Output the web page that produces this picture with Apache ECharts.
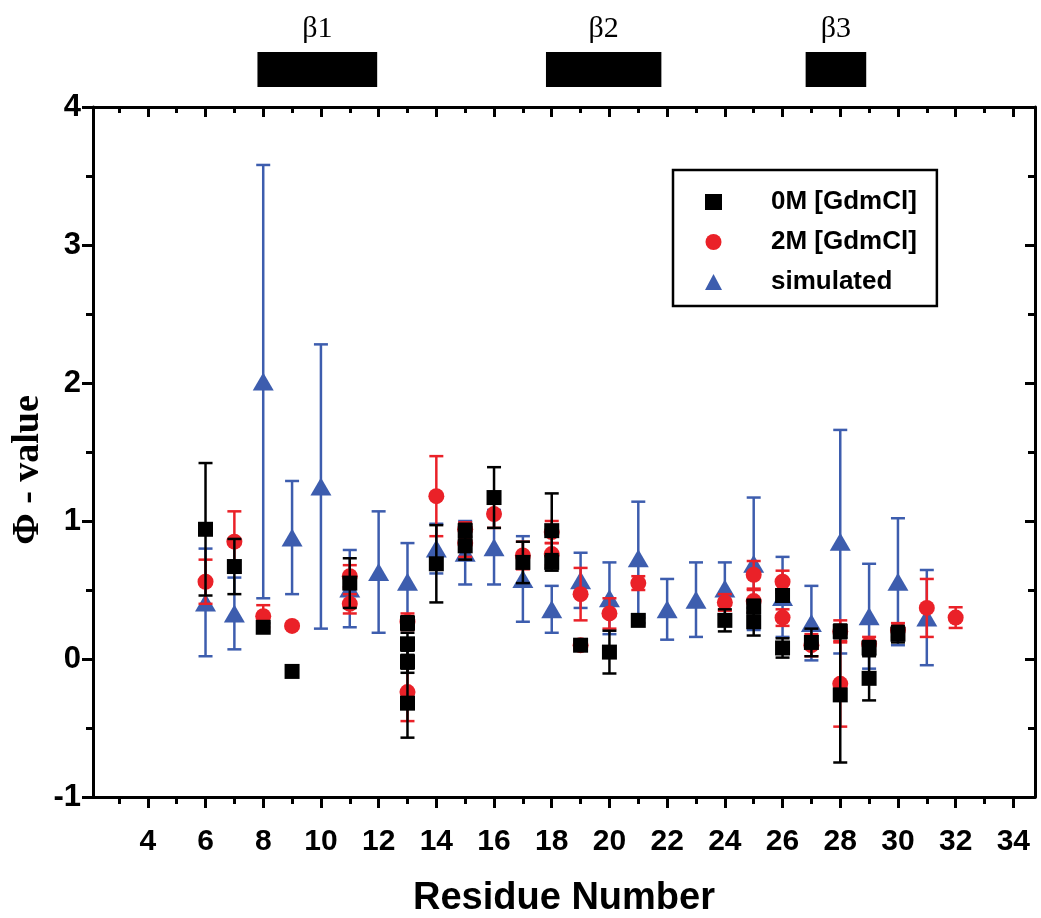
<!DOCTYPE html>
<html><head><meta charset="utf-8">
<script src="https://cdn.jsdelivr.net/npm/echarts@6/dist/echarts.min.js"></script>
<style>html,body{margin:0;padding:0;background:#fff}#c{width:1041px;height:918px}</style>
</head><body><div id="c"></div>
<script>
// ---- tick labels ----
const xMajorTicks = [4,6,8,10,12,14,16,18,20,22,24,26,28,30,32,34];
const xMinorTicks = [3,5,7,9,11,13,15,17,19,21,23,25,27,29,31,33];
const xMin = 2.1, xMax = 34.75;
const yMin = -1, yMax = 4;

// ---- secondary structure (beta strands) ----
const strandNames = ['\u03b21','\u03b22','\u03b23'];
const strandStart = [7.8, 17.8, 26.8];
const strandEnd   = [11.95, 21.8, 28.9];

// ---- 0M [GdmCl] ----
const res0M = [6,7,8,9,11,13,13,13,13,14,15,15,16,17,18,18,19,20,21,24,25,25,26,26,27,28,28,29,29,30];
const phi0M = [0.94,0.67,0.23,-0.09,0.55,0.26,0.11,-0.02,-0.32,0.69,0.93,0.82,1.17,0.70,0.93,0.70,0.10,0.05,0.28,0.28,0.27,0.38,0.08,0.46,0.12,-0.26,0.20,0.08,-0.14,0.18];
const err0M = [0.48,0.20,0.03,0,0.18,0.05,0.08,0.08,0.25,0.28,0.05,0.10,0.22,0.15,0.27,0.06,0.03,0.155,0.02,0.08,0.10,0.05,0.07,0.04,0.10,0.49,0.05,0.05,0.16,0.06];

// ---- 2M [GdmCl] ----
const res2M = [6,7,8,9,11,11,13,13,14,15,15,16,17,18,18,19,19,20,21,24,25,25,26,26,27,28,28,29,30,31,32];
const phi2M = [0.56,0.85,0.31,0.24,0.60,0.40,0.27,-0.24,1.18,0.94,0.84,1.05,0.75,0.92,0.76,0.47,0.10,0.33,0.55,0.41,0.61,0.42,0.56,0.30,0.10,0.20,-0.18,0.11,0.21,0.37,0.30];
const err2M = [0.16,0.22,0.08,0.02,0.08,0.07,0.06,0.21,0.29,0.05,0.10,0.10,0.10,0.08,0.08,0.19,0.04,0.11,0.05,0.06,0.10,0.08,0.08,0.06,0.08,0.08,0.31,0.05,0.05,0.21,0.075];

// ---- simulated ----
const resSim = [6,7,8,9,10,11,12,13,14,15,16,17,18,19,20,21,22,23,24,25,26,27,28,29,30,31];
const phiSim = [0.41,0.33,2.01,0.88,1.25,0.51,0.63,0.56,0.80,0.77,0.81,0.58,0.36,0.57,0.44,0.73,0.36,0.43,0.51,0.69,0.45,0.26,0.85,0.31,0.56,0.30];
const errSim = [0.39,0.26,1.57,0.41,1.03,0.28,0.44,0.28,0.18,0.23,0.27,0.31,0.17,0.20,0.26,0.41,0.22,0.27,0.19,0.48,0.29,0.27,0.81,0.38,0.46,0.345];

const BLACK = '#000000', RED = '#ea2128', BLUE = '#3d5dae';
const SANS = "'Liberation Sans',Arial,sans-serif";
const SERIF = "'Liberation Serif','Times New Roman',serif";

function pts(xs, ys) { return xs.map((x, i) => [x, ys[i]]); }
function errs(xs, ys, es) { return xs.map((x, i) => [x, ys[i] - es[i], ys[i] + es[i], es[i]]); }

function errRender(color, lw) {
  return function (params, api) {
    if (api.value(3) <= 0) return null;
    const x = api.value(0);
    const a = api.coord([x, api.value(1)]);
    const b = api.coord([x, api.value(2)]);
    const hw = 7;
    const style = { stroke: color, lineWidth: lw };
    return { type: 'group', children: [
      { type: 'line', shape: { x1: a[0], y1: a[1], x2: b[0], y2: b[1] }, style },
      { type: 'line', shape: { x1: a[0] - hw, y1: a[1], x2: a[0] + hw, y2: a[1] }, style },
      { type: 'line', shape: { x1: b[0] - hw, y1: b[1], x2: b[0] + hw, y2: b[1] }, style }
    ]};
  };
}

const chart = echarts.init(document.getElementById('c'), null, { renderer: 'canvas' });

const axisLine = { show: true, onZero: false, lineStyle: { color: '#000', width: 3 } };
const noLine = { show: false, onZero: false };

chart.setOption({
  animation: false,
  backgroundColor: '#fff',
  grid: [
    { left: 93, right: 6, top: 107, bottom: 121, containLabel: false, outerBoundsMode: 'none' },
    { left: 93, right: 6, top: 0, height: 107, containLabel: false, outerBoundsMode: 'none' }
  ],
  xAxis: [
    { gridIndex: 0, type: 'value', position: 'bottom', min: xMin, max: xMax,
      axisLine: axisLine, splitLine: { show: false },
      axisTick: { show: true, inside: false, length: 11, customValues: xMajorTicks, lineStyle: { width: 3, color: '#000' } },
      axisLabel: { show: true, customValues: xMajorTicks, margin: 30, color: '#000', fontSize: 30, fontWeight: 'bold', fontFamily: SANS },
      name: 'Residue Number', nameLocation: 'middle', nameGap: 83, nameMoveOverlap: false,
      nameTextStyle: { color: '#000', fontSize: 38, fontWeight: 'bold', fontFamily: SANS } },
    { gridIndex: 0, type: 'value', position: 'bottom', min: xMin, max: xMax,
      axisLine: noLine, splitLine: { show: false },
      axisTick: { show: true, inside: false, length: 7, customValues: xMinorTicks, lineStyle: { width: 3, color: '#000' } },
      axisLabel: { show: false } },
    { gridIndex: 0, type: 'value', position: 'top', min: xMin, max: xMax,
      axisLine: axisLine, splitLine: { show: false },
      axisTick: { show: true, inside: true, length: 10, customValues: xMajorTicks, lineStyle: { width: 3, color: '#000' } },
      axisLabel: { show: false } },
    { gridIndex: 0, type: 'value', position: 'top', min: xMin, max: xMax,
      axisLine: noLine, splitLine: { show: false },
      axisTick: { show: true, inside: true, length: 6, customValues: xMinorTicks, lineStyle: { width: 3, color: '#000' } },
      axisLabel: { show: false } },
    { gridIndex: 1, type: 'value', min: xMin, max: xMax, show: false }
  ],
  yAxis: [
    { gridIndex: 0, type: 'value', position: 'left', min: yMin, max: yMax, interval: 1,
      axisLine: axisLine, splitLine: { show: false },
      axisTick: { show: true, inside: false, length: 11, lineStyle: { width: 3, color: '#000' } },
      minorTick: { show: true, splitNumber: 2, length: 7, lineStyle: { width: 3, color: '#000' } },
      axisLabel: { show: true, margin: 12, color: '#000', fontSize: 31, fontWeight: 'bold', fontFamily: SANS },
      name: '\u03a6 - value', nameLocation: 'middle', nameGap: 46, nameMoveOverlap: false,
      nameTextStyle: { color: '#000', fontSize: 38, fontWeight: 'bold', fontFamily: SERIF, padding: [0, 36, 0, 0] } },
    { gridIndex: 0, type: 'value', position: 'right', min: yMin, max: yMax, interval: 1,
      axisLine: axisLine, splitLine: { show: false },
      axisTick: { show: true, inside: true, length: 10, lineStyle: { width: 3, color: '#000' } },
      minorTick: { show: true, splitNumber: 2, length: 7, lineStyle: { width: 3, color: '#000' } },
      axisLabel: { show: false } },
    { gridIndex: 1, type: 'value', min: 0, max: 1, show: false }
  ],
  legend: {
    data: ['0M [GdmCl]', '2M [GdmCl]', 'simulated'],
    orient: 'vertical', left: 673, top: 170,
    padding: [18, 20, 10, 32], itemGap: 12,
    itemWidth: 17, itemHeight: 16,
    borderColor: '#000', borderWidth: 2.5, borderRadius: 0,
    textStyle: { color: '#000', fontSize: 26, fontWeight: 'bold', fontFamily: SANS, lineHeight: 28, padding: [0, 0, 0, 44] }
  },
  series: [
    { name: 'simErr', type: 'custom', xAxisIndex: 0, yAxisIndex: 0, renderItem: errRender(BLUE, 2.5),
      data: errs(resSim, phiSim, errSim), encode: { x: 0, y: [1, 2] }, silent: true, z: 2 },
    { name: 'simulated', type: 'scatter', xAxisIndex: 0, yAxisIndex: 0, symbol: 'triangle', symbolSize: [21, 18],
      itemStyle: { color: BLUE, opacity: 1 }, data: pts(resSim, phiSim), z: 2 },
    { name: '2MErr', type: 'custom', xAxisIndex: 0, yAxisIndex: 0, renderItem: errRender(RED, 2.5),
      data: errs(res2M, phi2M, err2M), encode: { x: 0, y: [1, 2] }, silent: true, z: 3 },
    { name: '2M [GdmCl]', type: 'scatter', xAxisIndex: 0, yAxisIndex: 0, symbol: 'circle', symbolSize: 16,
      itemStyle: { color: RED, opacity: 1 }, data: pts(res2M, phi2M), z: 3 },
    { name: '0MErr', type: 'custom', xAxisIndex: 0, yAxisIndex: 0, renderItem: errRender(BLACK, 2.5),
      data: errs(res0M, phi0M, err0M), encode: { x: 0, y: [1, 2] }, silent: true, z: 4 },
    { name: '0M [GdmCl]', type: 'scatter', xAxisIndex: 0, yAxisIndex: 0, symbol: 'rect', symbolSize: 15,
      itemStyle: { color: BLACK, opacity: 1 }, data: pts(res0M, phi0M), z: 4 },
    { name: 'strands', type: 'custom', xAxisIndex: 4, yAxisIndex: 2,
      data: strandNames.map((n, i) => [strandStart[i], strandEnd[i], n]),
      encode: { x: [0, 1] }, silent: true,
      renderItem: function (params, api) {
        const cs = params.coordSys;
        const a = api.coord([api.value(0), 0]);
        const b = api.coord([api.value(1), 0]);
        const name = strandNames[params.dataIndex];
        return { type: 'group', children: [
          { type: 'rect', shape: { x: a[0], y: cs.y + 52, width: b[0] - a[0], height: 35 }, style: { fill: '#000' } },
          { type: 'text', style: { text: name, x: (a[0] + b[0]) / 2, y: cs.y + 29, align: 'center', verticalAlign: 'middle',
              fill: '#000', font: "30px " + SERIF } }
        ]};
      } }
  ]
});
</script>
</body></html>
